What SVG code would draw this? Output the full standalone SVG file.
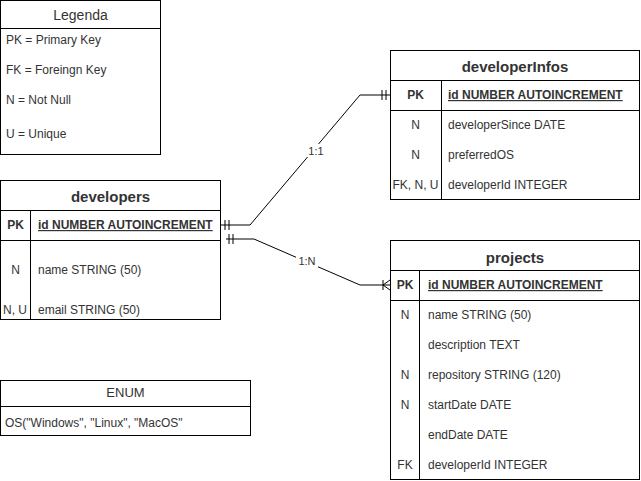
<svg xmlns="http://www.w3.org/2000/svg" width="641" height="481" viewBox="0 0 641 481">
<style>
text{font-family:"Liberation Sans",Arial,sans-serif;fill:#333333;font-size:12px}
.box{fill:#ffffff;stroke:#000000;stroke-width:1}
.ln{stroke:#000000;stroke-width:1;fill:none}
.title{font-size:15px;font-weight:bold;text-anchor:middle}
.ttl{font-size:14px;text-anchor:middle}
.c{text-anchor:middle}
.pk{font-weight:bold}
.u{text-decoration:underline}
.lbl{font-size:11px;text-anchor:middle}
</style>
<rect width="641" height="481" fill="#ffffff"/>
<g id="connectors">
  <path class="ln" d="M220,225 H250 L360,95 H390"/>
  <path class="ln" d="M225,220 V230 M229,220 V230 M382,90 V100 M386,90 V100"/>
  <path class="ln" d="M226,239 H254 L360,285 H390"/>
  <path class="ln" d="M229,234 V244 M233,234 V244"/>
  <path class="ln" d="M383,280 V290 M383,285 L390,280 M383,285 L390,290"/>
  <rect x="306" y="144" width="20" height="13" fill="#ffffff"/>
  <text class="lbl" x="316" y="155">1:1</text>
  <rect x="296" y="254" width="22" height="13" fill="#ffffff"/>
  <text class="lbl" x="307" y="265">1:N</text>
</g>
<g id="legenda">
  <rect class="box" x="0.5" y="0.5" width="160" height="154"/>
  <line class="ln" x1="0.5" y1="28.5" x2="160.5" y2="28.5"/>
  <text class="ttl" x="80.5" y="20">Legenda</text>
  <text x="6" y="44">PK = Primary Key</text>
  <text x="6" y="74">FK = Foreingn Key</text>
  <text x="6" y="104">N = Not Null</text>
  <text x="6" y="138">U = Unique</text>
</g>
<g id="developers">
  <rect class="box" x="0.5" y="180.5" width="220" height="139"/>
  <line class="ln" x1="0.5" y1="210.5" x2="220.5" y2="210.5"/>
  <line class="ln" x1="0.5" y1="240.5" x2="220.5" y2="240.5"/>
  <line class="ln" x1="30.5" y1="210.5" x2="30.5" y2="319.5"/>
  <text class="title" x="110.5" y="202">developers</text>
  <text class="c pk" x="15.5" y="229">PK</text>
  <text class="pk u" x="38" y="229">id NUMBER AUTOINCREMENT</text>
  <text class="c" x="15.5" y="274">N</text>
  <text x="38" y="274">name STRING (50)</text>
  <text class="c" x="15" y="314">N, U</text>
  <text x="38" y="314">email STRING (50)</text>
</g>
<g id="developerInfos">
  <rect class="box" x="390.5" y="50.5" width="249" height="149"/>
  <line class="ln" x1="390.5" y1="80.5" x2="639.5" y2="80.5"/>
  <line class="ln" x1="390.5" y1="110.5" x2="639.5" y2="110.5"/>
  <line class="ln" x1="441.5" y1="80.5" x2="441.5" y2="199.5"/>
  <text class="title" x="515" y="72">developerInfos</text>
  <text class="c pk" x="415.5" y="99">PK</text>
  <text class="pk u" x="448" y="99">id NUMBER AUTOINCREMENT</text>
  <text class="c" x="415.5" y="129">N</text>
  <text x="448" y="129">developerSince DATE</text>
  <text class="c" x="415.5" y="159">N</text>
  <text x="448" y="159">preferredOS</text>
  <text class="c" x="415.5" y="189">FK, N, U</text>
  <text x="448" y="189">developerId INTEGER</text>
</g>
<g id="projects">
  <rect class="box" x="390.5" y="240.5" width="249" height="239"/>
  <line class="ln" x1="390.5" y1="270.5" x2="639.5" y2="270.5"/>
  <line class="ln" x1="390.5" y1="300.5" x2="639.5" y2="300.5"/>
  <line class="ln" x1="419.5" y1="270.5" x2="419.5" y2="479.5"/>
  <text class="title" x="515" y="263">projects</text>
  <text class="c pk" x="405" y="289">PK</text>
  <text class="pk u" x="428" y="289">id NUMBER AUTOINCREMENT</text>
  <text class="c" x="405" y="319">N</text>
  <text x="428" y="319">name STRING (50)</text>
  <text x="428" y="349">description TEXT</text>
  <text class="c" x="405" y="379">N</text>
  <text x="428" y="379">repository STRING (120)</text>
  <text class="c" x="405" y="409">N</text>
  <text x="428" y="409">startDate DATE</text>
  <text x="428" y="439">endDate DATE</text>
  <text class="c" x="405" y="469">FK</text>
  <text x="428" y="469">developerId INTEGER</text>
</g>
<g id="enum">
  <rect class="box" x="0.5" y="380.5" width="250" height="55"/>
  <line class="ln" x1="0.5" y1="406.5" x2="250.5" y2="406.5"/>
  <text class="ttl" x="125.5" y="397" style="font-size:13px">ENUM</text>
  <text x="5" y="427">OS("Windows", "Linux", "MacOS"</text>
</g>
</svg>
